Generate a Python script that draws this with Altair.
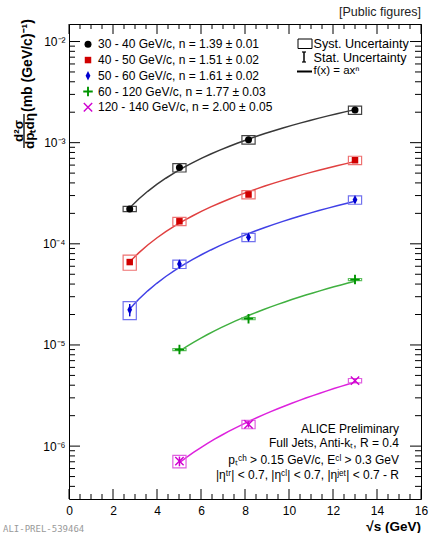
import altair as alt
import pandas as pd

# ---------------- data ----------------
series = ["30 - 40 GeV/c", "40 - 50 GeV/c", "50 - 60 GeV/c", "60 - 120 GeV/c", "120 - 140 GeV/c"]
n_fit = ["1.39 ± 0.01", "1.51 ± 0.02", "1.61 ± 0.02", "1.77 ± 0.03", "2.00 ± 0.05"]
sqrt_s = [2.76, 5.02, 8.16, 13.0]

xsec_30_40 = [2.21e-4, 5.67e-4, 1.07e-3, 2.10e-3]
xsec_40_50 = [6.6e-5, 1.67e-4, 3.07e-4, 6.7e-4]
xsec_50_60 = [2.23e-5, 6.3e-5, 1.16e-4, 2.72e-4]
xsec_60_120 = [None, 9.0e-6, 1.82e-5, 4.43e-5]
xsec_120_140 = [None, 7.1e-7, 1.64e-6, 4.44e-6]

# relative statistical uncertainties
stat_30_40 = [0.015, 0.01, 0.01, 0.01]
stat_40_50 = [0.03, 0.02, 0.015, 0.015]
stat_50_60 = [0.14, 0.095, 0.07, 0.07]
stat_60_120 = [None, 0.03, 0.03, 0.03]
stat_120_140 = [None, 0.11, 0.07, 0.045]

# relative systematic uncertainties
syst_30_40 = [0.06, 0.095, 0.095, 0.095]
syst_40_50 = [0.17, 0.095, 0.095, 0.095]
syst_50_60 = [0.20, 0.095, 0.095, 0.095]
syst_60_120 = [None, 0.025, 0.025, 0.025]
syst_120_140 = [None, 0.14, 0.095, 0.05]

xsec_all = [xsec_30_40, xsec_40_50, xsec_50_60, xsec_60_120, xsec_120_140]
stat_all = [stat_30_40, stat_40_50, stat_50_60, stat_60_120, stat_120_140]
syst_all = [syst_30_40, syst_40_50, syst_50_60, syst_60_120, syst_120_140]

x_major = [0, 2, 4, 6, 8, 10, 12, 14, 16]
x_minor = [v / 2 for v in range(0, 33) if v % 4 != 0]
y_major = [1e-6, 1e-5, 1e-4, 1e-3, 1e-2]
y_major_labels = ["10⁻⁶", "10⁻⁵", "10⁻⁴", "10⁻³", "10⁻²"]
Y_DOMAIN = [3.0e-7, 0.0149]
y_minor = []
for e in range(-7, -1):
    for k in range(2, 10):
        v = k * 10.0 ** e
        if Y_DOMAIN[0] * 1.001 < v < Y_DOMAIN[1]:
            y_minor.append(v)

rows = []
for i, s in enumerate(series):
    for j, xv in enumerate(sqrt_s):
        v = xsec_all[i][j]
        if v is None:
            continue
        rows.append(dict(series=s, x=xv, y=v, stat=stat_all[i][j], syst=syst_all[i][j]))
df = pd.DataFrame(rows)

# ---------------- styles ----------------
FONT = "Liberation Sans"
marker_colors = ["#000000", "#d00000", "#0000d0", "#009400", "#d000d0"]
line_colors = ["#383838", "#e04040", "#4040e6", "#40b040", "#dd22dd"]
box_colors = ["#444444", "#ee7272", "#7272ee", "#60c060", "#e060e0"]
diamond_thin = "M0,-1L0.5,0L0,1L-0.5,0Z"
plus_path = ("M-1,-0.2L-0.2,-0.2L-0.2,-1L0.2,-1L0.2,-0.2L1,-0.2L1,0.2L0.2,0.2"
             "L0.2,1L-0.2,1L-0.2,0.2L-1,0.2Z")
x_path = ("M-0.88,-1.12L1.12,0.88L0.88,1.12L-1.12,-0.88Z"
          "M0.88,-1.12L1.12,-0.88L-0.88,1.12L-1.12,0.88Z")
shapes = ["circle", "square", diamond_thin, plus_path, x_path]
sizes = [49, 42, 90, 90, 70]

W, H = 352, 475
OX, OY = 69, 24  # plot origin in page pixels

xscale = alt.Scale(domain=[0, 16], nice=False, zero=False)
yscale = alt.Scale(type="log", domain=Y_DOMAIN, nice=False)
label_expr = " : ".join(
    f"datum.value < {v * 3.0} ? '{lab}'" for v, lab in zip(y_major, y_major_labels)
) + " : ''"
xaxis = alt.Axis(values=x_major, ticks=False, domain=False, grid=False, title=None,
                 labelFontSize=12, labelPadding=6, labelFlush=False, format="d")
yaxis = alt.Axis(values=y_major, ticks=False, domain=False, grid=False, title=None,
                 labelFontSize=12, labelPadding=4, labelExpr=label_expr)


def X(field):
    return alt.X(field, type="quantitative", scale=xscale, axis=xaxis)


def Y(field):
    return alt.Y(field, type="quantitative", scale=yscale, axis=yaxis)


base = alt.Chart(df).transform_calculate(
    xl="datum.x - 0.3", xh="datum.x + 0.3",
    syl="datum.y * (1 - datum.syst)", syh="datum.y * (1 + datum.syst)",
    stl="datum.y * (1 - datum.stat)", sth="datum.y * (1 + datum.stat)",
)

layers = []
# fit lines
for i, s in enumerate(series):
    layers.append(
        alt.Chart(df).transform_filter(alt.datum.series == s)
        .transform_regression("x", "y", method="pow")
        .mark_line(color=line_colors[i], strokeWidth=1.5)
        .encode(x=X("x"), y=Y("y"))
    )
# systematic boxes, stat bars, markers
for i, s in enumerate(series):
    b = base.transform_filter(alt.datum.series == s)
    layers.append(b.mark_rect(filled=False, color=box_colors[i], strokeWidth=1.2)
                  .encode(x=X("xl"), x2="xh", y=Y("syl"), y2="syh"))
    layers.append(b.mark_rule(color=marker_colors[i], strokeWidth=1.5)
                  .encode(x=X("x"), y=Y("stl"), y2="sth"))
    layers.append(b.mark_point(shape=shapes[i], size=sizes[i], filled=True,
                               color=marker_colors[i], opacity=1)
                  .encode(x=X("x"), y=Y("y")))

# frame ticks (ROOT style, inward)
for vals, ln in [(x_major, 10), (x_minor, 5)]:
    tdf = pd.DataFrame({"v": vals})
    layers.append(alt.Chart(tdf).mark_rule(color="#000", strokeWidth=1)
                  .encode(x=X("v"), y=alt.value(H), y2=alt.value(H - ln)))
    layers.append(alt.Chart(tdf).mark_rule(color="#000", strokeWidth=1)
                  .encode(x=X("v"), y=alt.value(0), y2=alt.value(ln)))
for vals, ln in [(y_major, 11), (y_minor, 6)]:
    tdf = pd.DataFrame({"v": vals})
    layers.append(alt.Chart(tdf).mark_rule(color="#000", strokeWidth=1)
                  .encode(y=Y("v"), x=alt.value(0), x2=alt.value(ln)))
    layers.append(alt.Chart(tdf).mark_rule(color="#000", strokeWidth=1)
                  .encode(y=Y("v"), x=alt.value(W), x2=alt.value(W - ln)))


def txt(label, x, y, size=12, align="left", angle=0, bold=False, color="#000", font=FONT):
    return alt.Chart(pd.DataFrame({"t": [label]})).mark_text(
        align=align, baseline="middle", fontSize=size,
        fontWeight="bold" if bold else "normal", angle=angle, color=color, font=font,
    ).encode(x=alt.value(x - OX), y=alt.value(y - OY), text="t:N")


# left legend
for i, s in enumerate(series):
    yy = 44.3 + i * 15.75
    layers.append(
        alt.Chart(pd.DataFrame({"t": [s]})).mark_point(
            shape=shapes[i], size=sizes[i], filled=True, color=marker_colors[i], opacity=1
        ).encode(x=alt.value(88 - OX), y=alt.value(yy - OY))
    )
    layers.append(txt(f"{s}, n = {n_fit[i]}", 98, yy))

# right legend
layers.append(alt.Chart(pd.DataFrame({"t": ["box"]})).mark_rect(
    filled=False, color="#000", strokeWidth=1).encode(
    x=alt.value(298 - OX), x2=alt.value(312 - OX), y=alt.value(39 - OY), y2=alt.value(48.5 - OY)))
layers.append(txt("Syst. Uncertainty", 313.5, 44, size=12.6))
layers.append(alt.Chart(pd.DataFrame({"t": ["stat"]})).mark_rule(color="#000", strokeWidth=1.5).encode(
    x=alt.value(304 - OX), y=alt.value(52 - OY), y2=alt.value(62 - OY)))
layers.append(alt.Chart(pd.DataFrame({"t": ["cap1"]})).mark_rule(color="#000", strokeWidth=1.2).encode(
    x=alt.value(302 - OX), x2=alt.value(306 - OX), y=alt.value(52 - OY)))
layers.append(alt.Chart(pd.DataFrame({"t": ["cap2"]})).mark_rule(color="#000", strokeWidth=1.2).encode(
    x=alt.value(302 - OX), x2=alt.value(306 - OX), y=alt.value(62 - OY)))
layers.append(txt("Stat. Uncertainty", 313.5, 57.5, size=12.6))
layers.append(alt.Chart(pd.DataFrame({"t": ["fit"]})).mark_rule(color="#000", strokeWidth=2).encode(
    x=alt.value(297 - OX), x2=alt.value(312 - OX), y=alt.value(71.5 - OY)))
layers.append(txt("f(x) = axⁿ", 313.5, 71, size=11.5))

# annotations
layers.append(txt("[Public figures]", 421, 12, size=12.5, align="right", color="#222"))
layers.append(txt("ALICE Preliminary", 399, 428.5, align="right"))
layers.append(txt("Full Jets, Anti-kₜ, R = 0.4", 399, 443, align="right"))
layers.append(txt("pₜᶜʰ > 0.15 GeV/c, Eᶜˡ > 0.3 GeV", 399, 460, align="right"))
layers.append(txt("|ηᵗʳ| < 0.7, |ηᶜˡ| < 0.7, |ηʲᵉᵗ| < 0.7 - R", 399, 475, align="right"))
layers.append(txt("ALI-PREL-539464", 3, 529, size=9, color="#999", font="DejaVu Sans Mono"))
layers.append(txt("√s (GeV)", 421, 526.5, size=13.5, align="right", bold=True))

# y-axis title (fraction)
layers.append(txt("d²σ", 18.5, 131, size=13.5, align="center", angle=270, bold=True))
layers.append(alt.Chart(pd.DataFrame({"t": ["bar"]})).mark_rule(color="#000", strokeWidth=1.3).encode(
    x=alt.value(24 - OX), y=alt.value(114 - OY), y2=alt.value(148 - OY)))
layers.append(txt("dpₜdη", 30, 131, size=13.5, align="center", angle=270, bold=True))
layers.append(txt("(mb (GeV/c)⁻¹)", 28, 112, size=14, align="left", angle=270, bold=True))

chart = alt.layer(*layers).properties(
    width=W, height=H,
    padding={"left": OX, "top": OY, "right": 430 - OX - W, "bottom": 533 - OY - H},
    autosize=alt.AutoSizeParams(type="none"),
    background="#ffffff",
).configure_view(stroke="#000", strokeWidth=1).configure_axis(
    labelFont=FONT, labelColor="#000"
).configure_text(font=FONT)

chart.save("out.html", embed_options={"renderer": "svg", "actions": False})
